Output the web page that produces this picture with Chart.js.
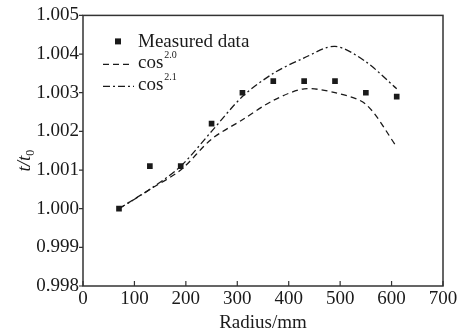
<!DOCTYPE html>
<html>
<head>
<meta charset="utf-8">
<script src="https://cdn.jsdelivr.net/npm/chart.js@4"></script>
<style>
  html, body { margin: 0; padding: 0; background: #fff; }
  #wrap { width: 462px; height: 334px; }
</style>
</head>
<body>
<div id="wrap"><canvas id="chart" width="462" height="334"></canvas></div>
<script>
// radius (mm)
const radius = [70, 130, 190, 250, 310, 370, 430, 490, 550, 610];
const measured = [1.0000, 1.0011, 1.0011, 1.0022, 1.0030, 1.0033, 1.0033, 1.0033, 1.0030, 1.0029];
const cos20 = [1.0000, 1.0005, 1.0010, 1.0018, 1.0023, 1.0028, 1.0031, 1.0030, 1.0027, 1.0016];
const cos21 = [1.0000, 1.0005, 1.0011, 1.0020, 1.0029, 1.0035, 1.0039, 1.0042, 1.0038, 1.0031];
const xTicks = [0, 100, 200, 300, 400, 500, 600, 700];
const yTicks = [0.998, 0.999, 1.000, 1.001, 1.002, 1.003, 1.004, 1.005];

const FONT = "'Liberation Serif', 'Times New Roman', serif";
const INK = "#1a1a1a";

const toXY = (vals) => vals.map((v, i) => ({ x: radius[i], y: v }));

// frame, tick marks, legend and y title
const decor = {
    id: "decor",
    afterDraw(chart) {
        const { ctx, chartArea: a, scales } = chart;
        ctx.save();
        ctx.strokeStyle = "#333";
        ctx.lineWidth = 1.5;
        ctx.strokeRect(a.left, a.top, a.right - a.left, a.bottom - a.top);

        ctx.lineWidth = 1.2;
        ctx.beginPath();
        yTicks.forEach(v => {
            const y = scales.y.getPixelForValue(v);
            ctx.moveTo(a.left - 4, y);
            ctx.lineTo(a.left, y);
        });
        xTicks.forEach(v => {
            const x = scales.x.getPixelForValue(v);
            ctx.moveTo(x, a.bottom);
            ctx.lineTo(x, a.bottom - 5);
        });
        ctx.stroke();

        // legend
        ctx.fillStyle = INK;
        ctx.strokeStyle = INK;
        ctx.textBaseline = "alphabetic";
        const lx = a.left + 20, tx = a.left + 55;
        ctx.fillRect(lx + 15 - 3, a.top + 26 - 3, 6, 6);
        ctx.font = "19px " + FONT;
        ctx.fillText("Measured data", tx, a.top + 32);

        ctx.lineWidth = 1.3;
        ctx.setLineDash([6, 4]);
        ctx.beginPath();
        ctx.moveTo(lx, a.top + 49);
        ctx.lineTo(lx + 27, a.top + 49);
        ctx.stroke();
        ctx.setLineDash([7, 3, 2, 3]);
        ctx.beginPath();
        ctx.moveTo(lx, a.top + 71);
        ctx.lineTo(lx + 31, a.top + 71);
        ctx.stroke();
        ctx.setLineDash([]);

        [["2.0", 53], ["2.1", 75]].forEach(([sup, y]) => {
            ctx.font = "19px " + FONT;
            ctx.fillText("cos", tx, a.top + y);
            const w = ctx.measureText("cos").width;
            ctx.font = "10px " + FONT;
            ctx.fillText(sup, tx + w + 1, a.top + y - 10);
        });

        // y axis title t/t0
        ctx.translate(24, (a.top + a.bottom) / 2 + 10);
        ctx.rotate(-Math.PI / 2);
        ctx.font = "italic 19px " + FONT;
        ctx.textAlign = "left";
        const main = "t/t";
        const mw = ctx.measureText(main).width;
        ctx.fillText(main, -(mw + 6) / 2, 6);
        ctx.font = "12px " + FONT;
        ctx.fillText("0", -(mw + 6) / 2 + mw, 10);
        ctx.restore();
    }
};

new Chart(document.getElementById("chart"), {
    type: "line",
    data: {
        datasets: [
            {
                label: "Measured data",
                data: toXY(measured),
                showLine: false,
                pointStyle: "rect",
                pointRadius: 4,
                pointBackgroundColor: INK,
                pointBorderWidth: 0
            },
            {
                label: "cos2.0",
                data: toXY(cos20),
                borderColor: INK,
                borderWidth: 1.3,
                borderDash: [6, 4],
                pointRadius: 0,
                tension: 0.3,
                fill: false
            },
            {
                label: "cos2.1",
                data: toXY(cos21),
                borderColor: INK,
                borderWidth: 1.3,
                borderDash: [7, 3, 2, 3],
                pointRadius: 0,
                tension: 0.3,
                fill: false
            }
        ]
    },
    options: {
        responsive: false,
        animation: false,
        layout: { padding: { left: 0, right: 19, top: 15, bottom: 0 } },
        plugins: { legend: { display: false }, tooltip: { enabled: false } },
        scales: {
            x: {
                type: "linear",
                min: 0,
                max: 700,
                grid: { display: false, drawTicks: false },
                border: { display: false },
                afterBuildTicks: (s) => { s.ticks = xTicks.map(v => ({ value: v })); },
                afterFit: (s) => { s.height = 48; },
                ticks: { padding: 2, color: INK, font: { family: FONT, size: 19 }, maxRotation: 0 },
                title: { display: true, text: "Radius/mm", color: INK, padding: 0, font: { family: FONT, size: 19 } }
            },
            y: {
                min: 0.998,
                max: 1.005,
                grid: { display: false, drawTicks: false },
                border: { display: false },
                afterBuildTicks: (s) => { s.ticks = yTicks.map(v => ({ value: v })); },
                afterFit: (s) => { s.width = 83; },
                ticks: { padding: 4, color: INK, font: { family: FONT, size: 19 }, callback: (v) => v.toFixed(3) }
            }
        }
    },
    plugins: [decor]
});
</script>
</body>
</html>
